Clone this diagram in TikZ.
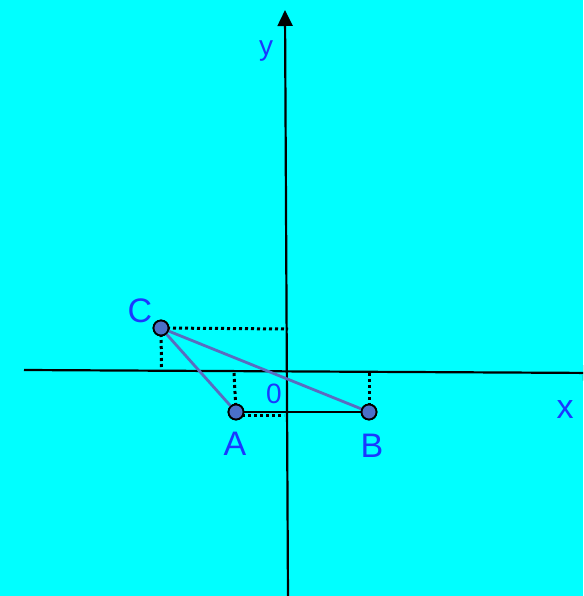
\documentclass[tikz,border=0pt]{standalone}
\usepackage{fontspec}
\setmainfont{Liberation Sans}
\usetikzlibrary{arrows.meta}
\definecolor{bg}{HTML}{00FFFF}
\definecolor{lbl}{HTML}{1A38FF}
\definecolor{pt}{HTML}{4A70C8}
\definecolor{edge}{HTML}{5A6CC0}
\begin{document}
\begin{tikzpicture}[x=1pt,y=-1pt,
  axis/.style={line width=2.2pt,black},
  pnt/.style={circle,draw=black,line width=1.8pt,fill=pt,minimum size=15pt,inner sep=0pt},
  tri/.style={line width=2.8pt,edge},
  dots/.style={line width=3pt,black,dash pattern=on 3pt off 3pt},
  lab/.style={text=lbl,font=\fontsize{34}{34}\selectfont,anchor=base,inner sep=0pt},
  slab/.style={text=lbl,font=\fontsize{28}{28}\selectfont,anchor=base,inner sep=0pt}]
\useasboundingbox (0,0) rectangle (583,596);
\fill[bg] (0,0) rectangle (583,596);
\clip (0,0) rectangle (583,596);
% axis ends
\coordinate (xl) at (24,370);
\coordinate (xr) at (599,373);
\coordinate (yb) at (288,600);
\coordinate (yt) at (285,10);
% feet of dotted lines
\coordinate (cy) at (288,329);
\coordinate (cx) at (161.5,368);
\coordinate (ax) at (234,373);
\coordinate (bx) at (369,373);
\coordinate (ay) at (284,415);
% points
\node[pnt] (C) at (161,328) {};
\node[pnt] (A) at (236,412) {};
\node[pnt] (B) at (369,412) {};
% axes
\draw[axis,-{Triangle[length=16pt,width=15pt]}] (xl) -- (xr);
\draw[axis,-{Triangle[length=16pt,width=15pt]}] (yb) -- (yt);
% dotted projections
\draw[dots] (C.center) -- (cy);
\draw[dots] (C.center) -- (cx);
\draw[dots] (ax) -- (A.center);
\draw[dots] (bx) -- (B.center);
\draw[dots] (A.center |- ay) -- (ay);
% triangle
\draw[line width=2.2pt,black] (A) -- (B);
\draw[tri] (C.center) -- (A);
\draw[tri] (C.center) -- (B.center);
\node[pnt] at (C) {};
\node[pnt] at (A) {};
\node[pnt] at (B) {};
% labels
\node[lab] (lC) at (140,322) {C};
\node[lab] (lA) at (235,455) {A};
\node[lab] (lB) at (372,457) {B};
\node[lab] (lx) at (565,418) {x};
\node[slab] (ly) at (266,56) {y};
\node[slab] (l0) at (274,403) {0};
\end{tikzpicture}
\end{document}
